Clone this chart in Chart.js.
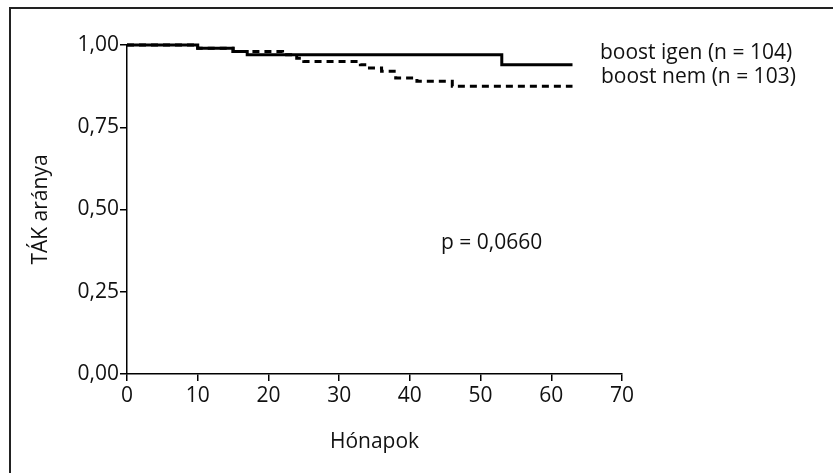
<!DOCTYPE html>
<html>
<head>
<meta charset="utf-8">
<script src="https://cdn.jsdelivr.net/npm/chart.js@4/dist/chart.umd.min.js"></script>
<style>
  html, body { margin: 0; padding: 0; background: #fff; }
  #wrap { width: 833px; height: 473px; }
</style>
</head>
<body>
<div id="wrap"><canvas id="chart" width="833" height="473"></canvas></div>
<script>
// Kaplan-Meier steps (months, proportion)
const igenMonths = [0, 10, 15, 17, 53, 63];
const igenValues = [1.0, 0.99, 0.98, 0.97, 0.94, 0.94];
const nemMonths = [0, 10, 15, 22, 24, 25, 33, 34, 36, 38, 41, 46, 63];
const nemValues = [1.0, 0.99, 0.98, 0.97, 0.96, 0.95, 0.94, 0.93, 0.92, 0.90, 0.89, 0.875, 0.875];
const seriesLabels = ['boost igen (n = 104)', 'boost nem (n = 103)'];
const pText = 'p = 0,0660';
const xTicks = [0, 10, 20, 30, 40, 50, 60, 70];
const yTicks = [0, 0.25, 0.5, 0.75, 1];

const FONT = '"Open Sans", "Noto Sans", sans-serif';
const SIZE = 21;

const toPoints = (xs, ys) => xs.map((x, i) => ({ x: x, y: ys[i] }));

const annotations = {
  id: 'annotations',
  beforeDraw(chart) {
    const c = chart.ctx;
    c.save();
    c.strokeStyle = '#222';
    c.lineWidth = 2;
    c.beginPath();
    c.moveTo(10, 473);
    c.lineTo(10, 8);
    c.lineTo(833, 8);
    c.stroke();
    c.restore();
  },
  afterDraw(chart) {
    const c = chart.ctx;
    const a = chart.chartArea;
    c.save();
    c.fillStyle = '#111';
    c.font = SIZE + 'px ' + FONT;
    c.textBaseline = 'middle';
    c.textAlign = 'left';
    c.fillText(seriesLabels[0], a.right - 22, 53);
    c.fillText(seriesLabels[1], a.right - 21, 77);
    c.fillText(pText, 441, 243);
    c.restore();
  }
};

new Chart(document.getElementById('chart'), {
  type: 'line',
  data: {
    datasets: [
      {
        label: seriesLabels[0],
        data: toPoints(igenMonths, igenValues),
        stepped: true,
        borderColor: '#000',
        borderWidth: 3,
        pointRadius: 0,
        fill: false,
        clip: false
      },
      {
        label: seriesLabels[1],
        data: toPoints(nemMonths, nemValues),
        stepped: true,
        borderColor: '#000',
        borderWidth: 3,
        borderDash: [7, 5],
        pointRadius: 0,
        fill: false,
        clip: false
      }
    ]
  },
  plugins: [annotations],
  options: {
    responsive: false,
    animation: false,
    layout: { padding: { left: 0, top: 45, right: 211, bottom: 0 } },
    plugins: { legend: { display: false }, tooltip: { enabled: false } },
    scales: {
      x: {
        type: 'linear',
        min: 0,
        max: 70,
        afterBuildTicks: (s) => { s.ticks = xTicks.map((v) => ({ value: v })); },
        afterFit: (s) => { s.height = 99; },
        grid: { drawOnChartArea: false, drawTicks: true, tickLength: 7, color: '#000', lineWidth: 1.5 },
        border: { display: true, color: '#000', width: 1.5 },
        ticks: { color: '#111', font: { family: FONT, size: SIZE }, padding: 2, maxRotation: 0 },
        title: { display: true, text: 'Hónapok', color: '#111', font: { family: FONT, size: SIZE }, padding: { top: 4, bottom: 18 } }
      },
      y: {
        min: 0,
        max: 1,
        afterBuildTicks: (s) => { s.ticks = yTicks.map((v) => ({ value: v })); },
        afterFit: (s) => { s.width = 127; },
        grid: { drawOnChartArea: false, drawTicks: true, tickLength: 7, color: '#000', lineWidth: 1.5 },
        border: { display: true, color: '#000', width: 1.5 },
        ticks: {
          color: '#111',
          font: { family: FONT, size: SIZE },
          padding: 1,
          callback: (v) => v.toFixed(2).replace('.', ',')
        },
        title: { display: true, text: 'TÁK aránya', color: '#111', font: { family: FONT, size: SIZE }, padding: { top: 28 } }
      }
    }
  }
});
</script>
</body>
</html>
